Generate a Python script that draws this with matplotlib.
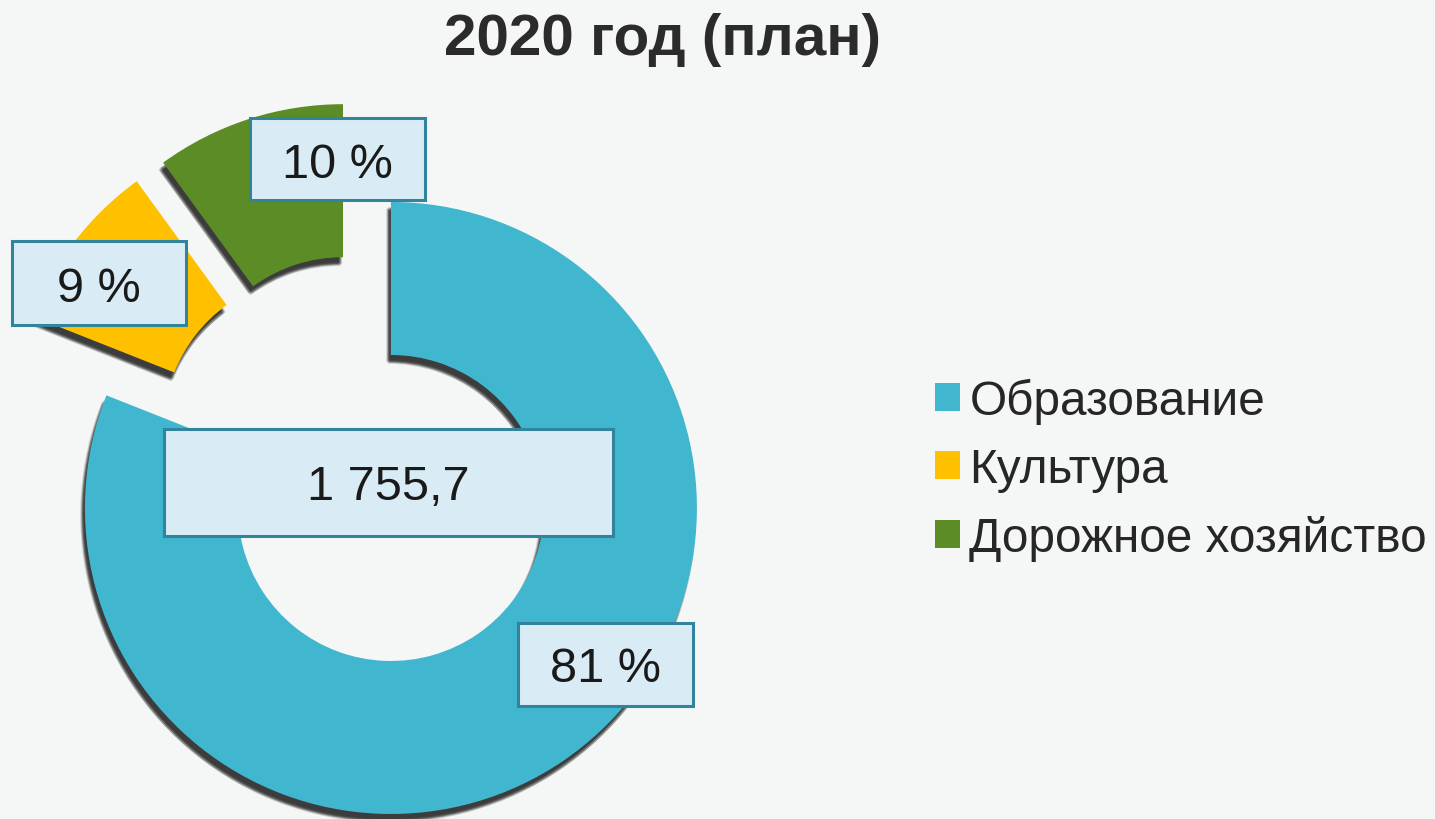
import matplotlib
matplotlib.use("Agg")
import matplotlib.pyplot as plt
import matplotlib.patheffects as pe
from matplotlib.patches import Rectangle

# ---- data ----
categories = ["Образование", "Культура", "Дорожное хозяйство"]
shares = [81, 9, 10]
share_labels = ["81 %", "9 %", "10 %"]
total_label = "1 755,7"
title = "2020 год (план)"

# ---- style ----
colors = ["#41B6CF", "#FFC000", "#5B8C26"]
bg = "#F5F7F6"
box_face = "#D9ECF5"
box_edge = "#31849B"
text_col = "#1A1A1A"
plt.rcParams['font.family'] = ['Liberation Sans', 'DejaVu Sans']

W, H = 1435, 820
fig = plt.figure(figsize=(W / 100, H / 100), dpi=100, facecolor=bg)
ax = fig.add_axes([0, 0, 1, 1])
ax.set_facecolor(bg)

R = 306
center = (360, H - 463.5)

shadow = [pe.SimplePatchShadow(offset=(-2 + dx, -5 + dy), shadow_rgbFace="black", alpha=0.14)
          for dx, dy in [(0, 0), (0.7, 0.7), (-0.7, -0.7), (0.7, -0.7), (-0.7, 0.7),
                         (1.4, 0), (-1.4, 0), (0, 1.4), (0, -1.4)]]
shadow.append(pe.Normal())

wedges, _ = ax.pie(shares, colors=colors, radius=R, center=center, startangle=90,
                   counterclock=False, explode=[55, 55, 55],
                   wedgeprops=dict(width=R / 2, linewidth=0, path_effects=shadow))

ax.set_xlim(0, W)
ax.set_ylim(0, H)
ax.set_aspect('equal')
ax.axis('off')

TXT_DY = -5  # small downward nudge of label text inside boxes

# label boxes (pixel centre x, y ; width, height)
label_boxes = [(605, 665, 175, 83), (99, 284, 174, 84), (337, 160, 175, 82)]
for txt, (cx, cy, bw, bh) in zip(share_labels, label_boxes):
    ax.add_patch(Rectangle((cx - bw / 2, H - cy - bh / 2), bw, bh, facecolor=box_face,
                           edgecolor=box_edge, linewidth=2.2, zorder=5))
    ax.text(cx, H - cy + TXT_DY, txt, ha='center', va='center', fontsize=35, color=text_col, zorder=6)

cx, cy, bw, bh = 388, 483, 449, 107
ax.add_patch(Rectangle((cx - bw / 2, H - cy - bh / 2), bw, bh, facecolor=box_face,
                       edgecolor=box_edge, linewidth=2.2, zorder=5))
ax.text(cx, H - cy + TXT_DY, total_label, ha='center', va='center', fontsize=35, color=text_col, zorder=6)

ax.text(662, H - 40, title, ha='center', va='center', fontsize=42, fontweight='bold', color="#2B2B2B")

leg = ax.legend(wedges, categories, loc='center left', bbox_to_anchor=(935 / W, (H - 470) / H),
                frameon=False, fontsize=34.4, handlelength=0.52, handleheight=0.52,
                handletextpad=0.2, labelspacing=0.48, borderpad=0, borderaxespad=0)
for t in leg.get_texts():
    t.set_color("#262626")
for h in leg.legend_handles:
    h.set_path_effects([])

fig.savefig("out.png", dpi=100, facecolor=bg)
